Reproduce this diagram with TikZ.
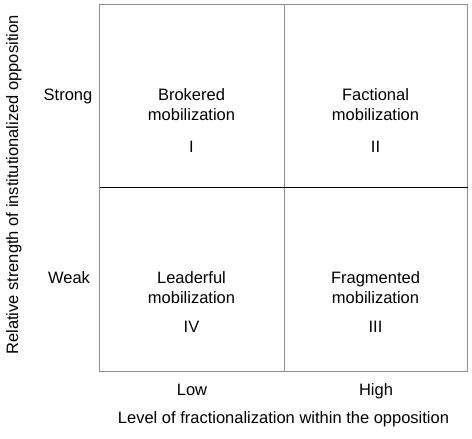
\documentclass[tikz,border=0pt]{standalone}
\usepackage{fontspec}
\setmainfont{Liberation Sans}
\usetikzlibrary{positioning}
\tikzset{
    myframe/.style={draw=black!45,line width=1pt},
    mysplit/.style={draw=black,line width=1pt},
    mytext/.style={align=center,anchor=base,inner sep=0pt,font=\fontsize{16.5}{20}\selectfont},
    every node/.style={font=\fontsize{16.5}{20}\selectfont}
}
\begin{document}
\begin{tikzpicture}[x=1pt,y=-1pt]
  \useasboundingbox (0,0) rectangle (472,439);
  \coordinate (TL) at (99.5,4.5);
  \coordinate (BR) at (467.5,371.5);

  % outer frame and dividers
  \draw[myframe] (TL) rectangle (BR);
  \draw[myframe] (284,4.5) -- (284,371.5);
  \draw[mysplit] (99.5,187.5) -- (467.5,187.5);

  % quadrants
  \node[mytext] (q1) at (191.5,120) {Brokered\\mobilization};
  \node[mytext] (n1) at (191.5,152) {I};
  \node[mytext] (q2) at (375.5,120) {Factional\\mobilization};
  \node[mytext] (n2) at (375.5,152) {II};
  \node[mytext] (q4) at (191.5,303) {Leaderful\\mobilization};
  \node[mytext] (n4) at (191.5,332) {IV};
  \node[mytext] (q3) at (375.5,303) {Fragmented\\mobilization};
  \node[mytext] (n3) at (375.5,332) {III};

  % axis levels
  \node[mytext] (strong) at (68,100) {Strong};
  \node[mytext] (weak) at (69,283) {Weak};
  \node[mytext] (low) at (192,395) {Low};
  \node[mytext] (high) at (376,395) {High};

  % axis titles
  \node[mytext] (xtitle) at (283.5,423) {Level of fractionalization within the opposition};
  \node[mytext,rotate=90] (ytitle) at (18,185) {Relative strength of institutionalized opposition};
\end{tikzpicture}
\end{document}
